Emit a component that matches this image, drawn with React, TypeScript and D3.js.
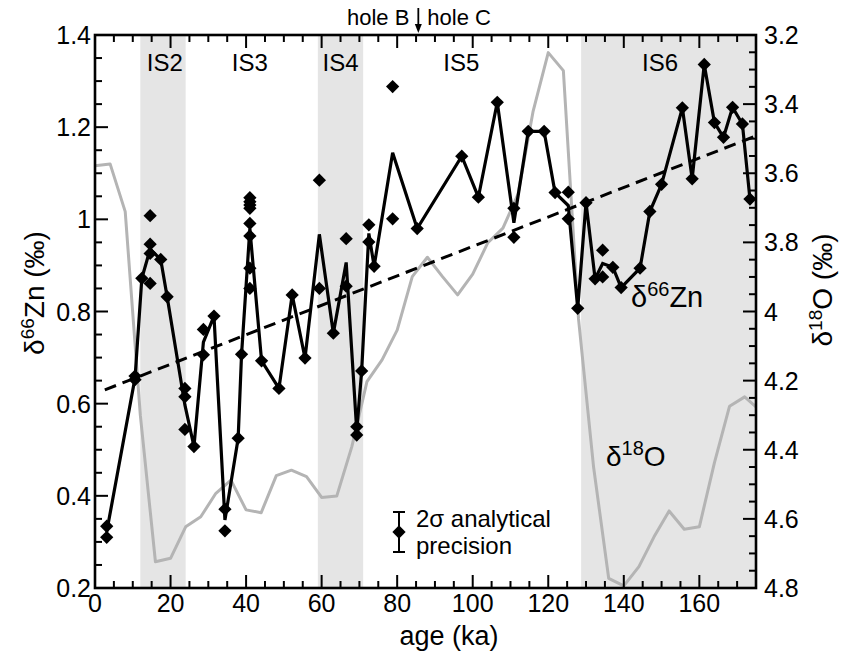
import React from "react";
import * as d3 from "d3";

// ---- data ----
const znAges = [3.1, 3.1, 10.6, 10.6, 12.4, 14.6, 14.6, 14.6, 14.6, 17.4, 19.1, 23.8, 23.8, 23.8, 26.2, 28.7, 28.7, 31.5, 34.4, 34.4, 37.9, 38.8, 41, 41, 41, 41, 41, 41, 41, 41, 44.1, 48.7, 52.2, 55.6, 59.4, 59.4, 63.1, 66.5, 66.5, 69.3, 69.3, 70.6, 72.5, 72.5, 73.9, 78.8, 78.8, 85.3, 97.1, 101.5, 106.5, 110.9, 110.9, 114.7, 118.9, 121.8, 125.3, 125.3, 127.8, 130, 132.4, 134.4, 134.4, 137.1, 139.3, 144.3, 146.9, 150, 155.5, 158.1, 161.3, 164, 166.4, 168.8, 171.4, 173.4];
const znValues = [0.334, 0.31, 0.66, 0.652, 0.872, 1.008, 0.946, 0.926, 0.861, 0.913, 0.832, 0.633, 0.615, 0.544, 0.507, 0.761, 0.706, 0.79, 0.371, 0.324, 0.525, 0.707, 1.047, 1.038, 1.031, 1.024, 0.991, 0.964, 0.894, 0.85, 0.693, 0.633, 0.836, 0.699, 1.085, 0.85, 0.753, 0.958, 0.855, 0.55, 0.532, 0.671, 0.988, 0.951, 0.898, 1.288, 1.001, 0.98, 1.137, 1.048, 1.254, 1.024, 0.961, 1.191, 1.191, 1.058, 1.059, 1.001, 0.807, 1.036, 0.871, 0.933, 0.875, 0.896, 0.852, 0.894, 1.017, 1.076, 1.242, 1.088, 1.336, 1.21, 1.178, 1.243, 1.207, 1.044];

const o18Ages = [0, 4, 8, 12, 16, 20, 24, 28, 32, 36, 40, 44, 48, 52, 56, 60, 64, 68, 72, 76, 80, 84, 88, 92, 96, 100, 104, 108, 112, 116, 120, 124, 128, 132, 136, 140, 144, 148, 152, 156, 160, 164, 168, 172, 175];
const o18Values = [3.578, 3.573, 3.711, 4.3, 4.724, 4.714, 4.623, 4.594, 4.526, 4.488, 4.574, 4.582, 4.475, 4.459, 4.478, 4.538, 4.534, 4.391, 4.203, 4.14, 4.054, 3.899, 3.843, 3.899, 3.952, 3.892, 3.801, 3.759, 3.66, 3.42, 3.251, 3.303, 4.02, 4.45, 4.772, 4.794, 4.738, 4.652, 4.577, 4.63, 4.623, 4.437, 4.274, 4.247, 4.276];

const trendAges = [2.6, 175];
const trendValues = [0.63, 1.181];

const shadeStart = [12, 59, 128.7];
const shadeEnd = [24, 71, 175];
const stageNames = ["IS2", "IS3", "IS4", "IS5", "IS6"];
const stageLabelAges = [18.5, 41, 65, 97, 149.6];

const xTicks = [0, 20, 40, 60, 80, 100, 120, 140, 160];
const znTicks = [0.2, 0.4, 0.6, 0.8, 1.0, 1.2, 1.4];
const oTicks = [3.2, 3.4, 3.6, 3.8, 4.0, 4.2, 4.4, 4.6, 4.8];
const holeAge = 85.6;

// ---- layout ----
const W = 843, H = 657;
const L = 95, R = 756, T = 35, B = 588;
const FONT = "'Liberation Sans', Arial, Helvetica, sans-serif";

export default function App() {
  const x = d3.scaleLinear().domain([0, 175]).range([L, R]);
  const yZn = d3.scaleLinear().domain([0.2, 1.4]).range([B, T]);
  const yO = d3.scaleLinear().domain([3.2, 4.8]).range([T, B]);

  const points = znAges.map((a, i) => ({ a, v: znValues[i] }));
  const means = d3
    .rollups(points, (g) => d3.mean(g, (d) => d.v) as number, (d) => d.a)
    .sort((p, q) => p[0] - q[0]);

  const znLine = d3.line<[number, number]>().x((d) => x(d[0])).y((d) => yZn(d[1]))(means) || "";
  const oLine =
    d3.line<number>().x((d) => x(d)).y((_, i) => yO(o18Values[i]))(o18Ages) || "";
  const trend =
    d3.line<number>().x((d) => x(d)).y((_, i) => yZn(trendValues[i]))(trendAges) || "";
  const diamond = d3.symbol().type(d3.symbolSquare).size(88)() || "";

  const xMinor = d3.range(0, 175.01, 5);
  const znMinor = d3.range(0.2, 1.4001, 0.05);
  const oMinor = d3.range(3.2, 4.8001, 0.05);
  const fmt = (v: number) => String(+v.toFixed(1));

  const MAJ = 13, MIN = 7;
  const tickStroke = { stroke: "#000", strokeWidth: 2 };

  return (
    <svg width={W} height={H} style={{ position: "absolute", left: 0, top: 0, background: "#fff" }} fontFamily={FONT}>
      {/* shaded stages */}
      {shadeStart.map((s, i) => (
        <rect key={"sh" + i} x={x(s)} y={T} width={x(shadeEnd[i]) - x(s)} height={B - T} fill="#e5e5e5" />
      ))}
      {stageNames.map((n, i) => (
        <text key={n} x={x(stageLabelAges[i])} y={71} fontSize={24} textAnchor="middle">{n}</text>
      ))}

      {/* d18O */}
      <path d={oLine} fill="none" stroke="#b4b4b4" strokeWidth={3} strokeLinejoin="round" />
      {/* trend */}
      <path d={trend} fill="none" stroke="#000" strokeWidth={3} strokeDasharray="12,7" />
      {/* Zn mean line */}
      <path d={znLine} fill="none" stroke="#000" strokeWidth={3.2} strokeLinejoin="miter" />
      {points.map((p, i) => (
        <path key={"p" + i} d={diamond} transform={`translate(${x(p.a)},${yZn(p.v)}) rotate(45)`} fill="#000" />
      ))}

      {/* frame */}
      <rect x={L} y={T} width={R - L} height={B - T} fill="none" stroke="#000" strokeWidth={2.6} />

      {/* x ticks bottom & top */}
      {xMinor.map((v) => {
        const major = xTicks.includes(Math.round(v));
        const len = major ? MAJ : MIN;
        return (
          <g key={"xt" + v}>
            <line x1={x(v)} x2={x(v)} y1={B} y2={B - len} {...tickStroke} />
            <line x1={x(v)} x2={x(v)} y1={T} y2={T + len} {...tickStroke} />
          </g>
        );
      })}
      {xTicks.map((v) => (
        <text key={"xl" + v} x={x(v)} y={612} fontSize={25} textAnchor="middle">{v}</text>
      ))}

      {/* left ticks */}
      {znMinor.map((v, i) => {
        const len = i % 4 === 0 ? MAJ : MIN;
        return <line key={"zt" + i} x1={L} x2={L + len} y1={yZn(v)} y2={yZn(v)} {...tickStroke} />;
      })}
      {znTicks.map((v) => (
        <text key={"zl" + v} x={91} y={yZn(v) + 9} fontSize={25} textAnchor="end">{fmt(v)}</text>
      ))}

      {/* right ticks */}
      {oMinor.map((v, i) => {
        const len = i % 4 === 0 ? MAJ : MIN;
        return <line key={"ot" + i} x1={R} x2={R - len} y1={yO(v)} y2={yO(v)} {...tickStroke} />;
      })}
      {oTicks.map((v) => (
        <text key={"ol" + v} x={764} y={yO(v) + 9} fontSize={25} textAnchor="start">{fmt(v)}</text>
      ))}

      {/* axis titles */}
      <text x={449} y={645} fontSize={27} textAnchor="middle">age (ka)</text>
      <text transform={`translate(44,293) rotate(-90)`} fontSize={28} textAnchor="middle">
        δ<tspan dy={-10} fontSize={19}>66</tspan><tspan dy={10}>Zn (‰)</tspan>
      </text>
      <text transform={`translate(832,290) rotate(-90)`} fontSize={28} textAnchor="middle">
        δ<tspan dy={-10} fontSize={19}>18</tspan><tspan dy={10}>O (‰)</tspan>
      </text>

      {/* hole annotation */}
      <text x={x(holeAge) - 9} y={25} fontSize={22} textAnchor="end">hole B</text>
      <text x={x(holeAge) + 9} y={25} fontSize={22} textAnchor="start">hole C</text>
      <line x1={x(holeAge)} x2={x(holeAge)} y1={8} y2={26} stroke="#000" strokeWidth={1.8} />
      <path d={`M${x(holeAge) - 3.5},${24} L${x(holeAge) + 3.5},${24} L${x(holeAge)},${33} Z`} fill="#000" />

      {/* series labels */}
      <text x={631} y={307} fontSize={29}>
        δ<tspan dy={-11} fontSize={20}>66</tspan><tspan dy={11}>Zn</tspan>
      </text>
      <text x={606} y={466} fontSize={28}>
        δ<tspan dy={-11} fontSize={20}>18</tspan><tspan dy={11}>O</tspan>
      </text>

      {/* legend */}
      <line x1={399} x2={399} y1={512} y2={552} stroke="#000" strokeWidth={2} />
      <line x1={393} x2={405} y1={512} y2={512} stroke="#000" strokeWidth={2} />
      <line x1={393} x2={405} y1={552} y2={552} stroke="#000" strokeWidth={2} />
      <path d={diamond} transform={`translate(399,532) rotate(45)`} fill="#000" />
      <text x={416} y={527} fontSize={24}>2σ analytical</text>
      <text x={416} y={554} fontSize={24}>precision</text>
    </svg>
  );
}
